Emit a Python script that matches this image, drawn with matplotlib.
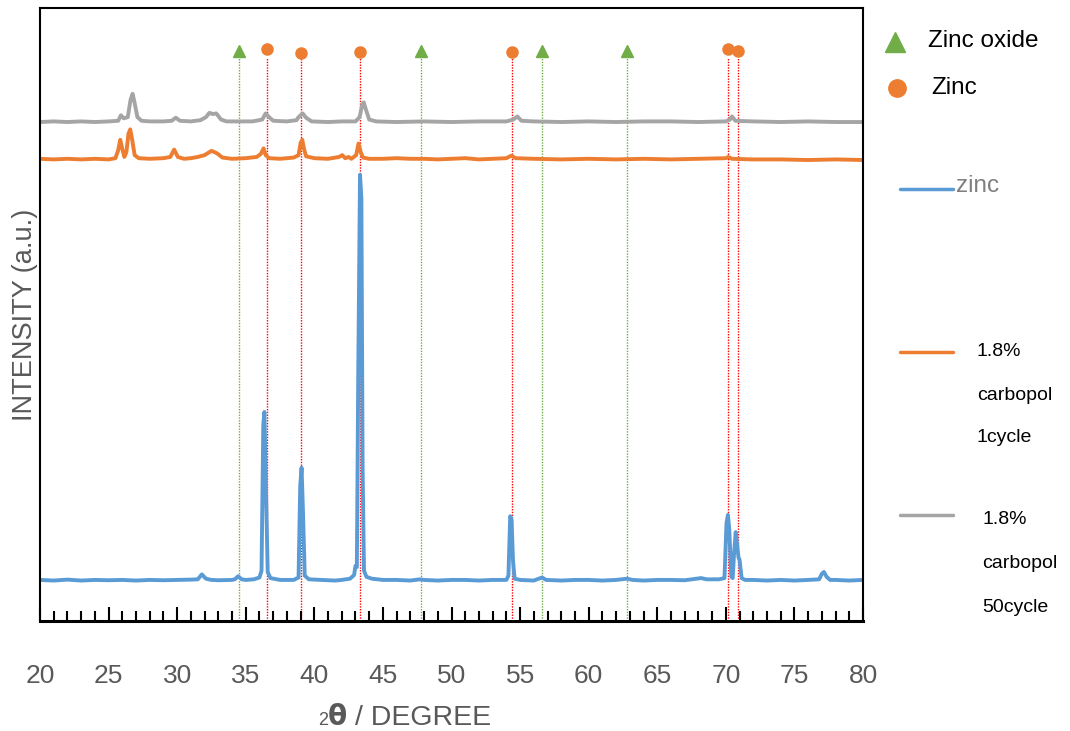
import matplotlib
matplotlib.use("Agg")
import matplotlib.pyplot as plt
from matplotlib.lines import Line2D
from matplotlib.ticker import MultipleLocator

plt.rcParams['font.family'] = ['Liberation Sans', 'DejaVu Sans']

# XRD traces, (2theta, intensity a.u.)
zinc_pts = [
    (20.0, 67), (21.0, 66), (22.0, 67.5), (23.0, 66), (24.0, 67), (25.0, 66.5),
    (26.0, 67), (27.0, 66), (28.0, 67), (29.0, 66.5), (30.0, 67), (31.0, 67.5),
    (31.5, 68), (31.8, 76), (32.1, 69), (32.5, 67), (33.0, 66.5), (34.0, 67),
    (34.2, 68), (34.45, 73), (34.7, 68), (35.0, 67), (35.6, 68), (36.0, 71),
    (36.15, 82), (36.28, 320), (36.36, 341), (36.46, 230), (36.6, 80), (36.8, 70),
    (37.5, 67), (38.5, 67), (38.85, 71), (38.97, 220), (39.07, 250), (39.17, 180),
    (39.3, 74), (39.6, 68), (40.5, 67), (41.5, 66), (42.0, 67), (42.6, 69),
    (42.9, 75), (43.0, 90), (43.1, 88), (43.2, 400), (43.33, 728), (43.43, 690),
    (43.52, 250), (43.62, 82), (43.8, 72), (44.2, 69), (45.0, 67), (46.0, 67),
    (47.0, 66), (47.7, 68), (48.0, 67), (49.0, 66), (50.0, 67), (51.0, 67),
    (52.0, 66), (53.0, 67), (54.0, 67), (54.15, 74), (54.28, 171), (54.38, 165),
    (54.48, 100), (54.6, 69), (55.0, 67), (56.0, 66), (56.6, 71), (56.9, 67),
    (58.0, 66), (59.0, 67), (60.0, 67), (61.0, 66), (62.0, 67), (62.8, 69),
    (63.2, 67), (64.0, 66), (65.0, 67), (66.0, 67), (67.0, 66.5), (68.2, 70),
    (68.6, 68), (69.5, 68), (69.9, 70), (70.05, 160), (70.15, 173), (70.25, 150),
    (70.4, 72), (70.5, 70), (70.6, 110), (70.72, 145), (70.82, 125), (70.92, 104),
    (71.0, 100), (71.15, 70), (71.4, 67), (72.0, 67), (73.0, 66), (74.0, 67),
    (75.0, 66), (76.0, 67), (76.8, 68), (77.0, 77), (77.15, 80), (77.35, 72),
    (77.6, 67), (78.0, 67), (79.0, 66), (80.0, 67),
]

cycle1_pts = [
    (20.0, 754), (21.0, 753), (22.0, 754), (23.0, 753), (24.0, 754), (25.0, 753),
    (25.5, 755), (25.7, 768), (25.85, 785), (26.0, 770), (26.15, 757), (26.3, 765),
    (26.45, 795), (26.58, 802), (26.72, 785), (26.9, 760), (27.2, 755), (28.0, 754),
    (29.0, 755), (29.5, 757), (29.78, 769), (30.05, 757), (30.5, 754), (31.0, 755),
    (31.5, 757), (32.0, 760), (32.5, 767), (32.9, 763), (33.3, 756), (34.0, 754),
    (35.0, 755), (35.8, 757), (36.1, 762), (36.3, 771), (36.45, 760), (36.7, 755),
    (37.5, 754), (38.5, 756), (38.85, 760), (39.0, 780), (39.12, 785), (39.25, 770),
    (39.4, 758), (40.0, 755), (41.0, 754), (41.8, 757), (42.04, 760), (42.25, 755),
    (42.5, 757), (42.7, 754), (43.05, 760), (43.22, 779), (43.38, 765), (43.55, 756),
    (44.0, 754), (45.0, 754), (46.0, 755), (47.0, 754), (48.0, 754), (49.0, 753),
    (50.0, 754), (51.0, 755), (52.0, 753), (53.0, 754), (54.0, 755), (54.35, 759),
    (54.7, 755), (56.0, 754), (58.0, 753), (60.0, 754), (62.0, 753), (64.0, 754),
    (66.0, 753), (68.0, 754), (70.0, 755), (70.18, 757), (70.45, 754), (72.0, 753),
    (74.0, 753), (76.0, 752), (78.0, 753), (80.0, 752),
]

cycle50_pts = [
    (20.0, 814), (21.0, 815), (22.0, 814), (23.0, 815), (24.0, 814), (25.0, 815),
    (25.7, 816), (25.9, 825), (26.1, 820), (26.4, 822), (26.6, 850), (26.75, 860),
    (26.9, 845), (27.1, 822), (27.4, 816), (28.0, 815), (29.0, 815), (29.6, 816),
    (29.9, 821), (30.2, 816), (31.0, 815), (31.7, 817), (32.1, 822), (32.35, 829),
    (32.6, 827), (32.85, 828), (33.2, 818), (33.6, 815), (34.5, 815), (35.5, 815),
    (36.2, 818), (36.45, 828), (36.7, 822), (37.0, 816), (38.0, 815), (38.7, 817),
    (38.85, 822), (39.15, 828), (39.4, 821), (39.8, 815), (41.0, 814), (42.0, 815),
    (43.0, 815), (43.3, 822), (43.5, 843), (43.6, 846), (43.75, 835), (44.0, 818),
    (44.5, 815), (46.0, 814), (48.0, 815), (50.0, 814), (52.0, 815), (54.0, 815),
    (54.5, 818), (54.8, 823), (55.1, 816), (56.0, 815), (58.0, 814), (60.0, 815),
    (62.0, 814), (64.0, 815), (66.0, 815), (68.0, 814), (70.0, 815), (70.3, 818),
    (70.45, 823), (70.7, 816), (72.0, 815), (74.0, 814), (76.0, 815), (78.0, 814),
    (80.0, 814),
]

# reference peak positions and marker heights
zno_pos = [34.5, 47.8, 56.6, 62.8]
zno_h = [930, 930, 930, 930]
zn_pos = [36.53, 39.02, 43.31, 54.38, 70.15, 70.88]
zn_h = [933, 926, 929, 929, 933, 930]
line_top = 918

BLUE = '#5B9BD5'
ORANGE = '#ED7D31'
GRAY = '#A5A5A5'
GREEN = '#70AD47'
RED = '#FF0000'
TXT = '#595959'

fig = plt.figure(figsize=(10.7, 7.31), dpi=100)
ax = fig.add_axes([40 / 1070, 1 - 621 / 731, 823 / 1070, 613 / 731])

for x in zno_pos:
    ax.plot([x, x], [0, line_top], color=GREEN, lw=1.0, ls=(0, (1, 1)), zorder=1)
for x in zn_pos:
    ax.plot([x, x], [0, line_top], color=RED, lw=1.0, ls=(0, (1, 1)), zorder=1)

for pts, c in [(zinc_pts, BLUE), (cycle1_pts, ORANGE), (cycle50_pts, GRAY)]:
    xs, ys = zip(*pts)
    ax.plot(xs, ys, color=c, lw=2.8, solid_joinstyle='round', zorder=2)

ax.plot(zno_pos, zno_h, ls='none', marker='^', ms=8.5, color=GREEN, zorder=3)
ax.plot(zn_pos, zn_h, ls='none', marker='o', ms=8, color=ORANGE, zorder=3)

ax.set_xlim(20, 80)
ax.set_ylim(0, 1000)
ax.xaxis.set_major_locator(MultipleLocator(5))
ax.xaxis.set_minor_locator(MultipleLocator(1))
ax.tick_params(axis='x', which='major', direction='in', length=10, width=1.5,
               labelsize=19, labelcolor=TXT, pad=31)
ax.tick_params(axis='x', which='minor', direction='in', length=7, width=1.5)
ax.set_yticks([])
for s in ax.spines.values():
    s.set_linewidth(1.5)
ax.spines['bottom'].set_linewidth(2.2)

fig.text(25 / 1070, 1 - 315 / 731, 'INTENSITY (a.u.)', rotation=90, ha='center',
         va='center', fontsize=19.5, color=TXT)

# x label: small "2", bold theta, then the rest
fig.text(318 / 1070, 1 - 725 / 731, '2', fontsize=13, color=TXT, va='baseline')
fig.text(328 / 1070, 1 - 725 / 731, 'θ', fontsize=20, fontweight='bold',
         color=TXT, va='baseline', family=['DejaVu Sans'])
fig.text(355 / 1070, 1 - 725 / 731, '/ DEGREE', fontsize=20.5, color=TXT, va='baseline')


def fx(px):
    return px / 1070


def fy(py):
    return 1 - py / 731


# legend drawn by hand outside the axes
fig.add_artist(Line2D([fx(895)], [fy(42)], marker='^', ms=14, color=GREEN,
                      transform=fig.transFigure))
fig.add_artist(Line2D([fx(897)], [fy(88)], marker='o', ms=12.5, color=ORANGE,
                      transform=fig.transFigure))
fig.text(fx(928), fy(41), 'Zinc oxide', fontsize=17.5, va='center', color='black')
fig.text(fx(931), fy(88), 'Zinc', fontsize=17.5, va='center', color='black')

for y0, c in [(189, BLUE), (352, ORANGE), (515, GRAY)]:
    fig.add_artist(Line2D([fx(900), fx(953)], [fy(y0), fy(y0)], color=c, lw=2.5,
                          solid_capstyle='round', transform=fig.transFigure))
fig.text(fx(956), fy(186), 'zinc', fontsize=17.5, va='center', color='#7F7F7F')
for txt, y0 in [('1.8%', 352), ('carbopol', 395), ('1cycle', 438)]:
    fig.text(fx(977), fy(y0), txt, fontsize=14, va='center', color='black')
for txt, y0 in [('1.8%', 520), ('carbopol', 563), ('50cycle', 607)]:
    fig.text(fx(982), fy(y0), txt, fontsize=14, va='center', color='black')

fig.savefig('out.png', dpi=100)
